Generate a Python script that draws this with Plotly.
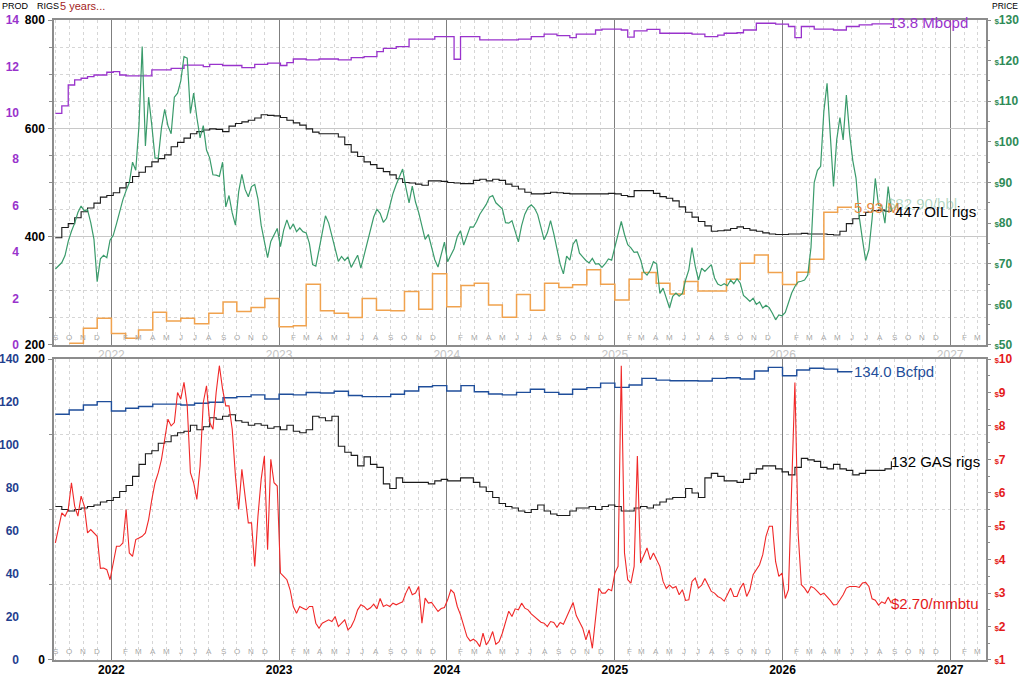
import pandas as pd
import plotly.graph_objects as go

# ---- data ----
START = "2021-09-01"

# weekly WTI-style oil price, $/bbl
oil_price = [
    68.7, 69.5, 70.3, 72.0, 75.5, 78.0, 80.0, 82.6, 84.2, 83.0,
    83.3, 80.1, 76.0, 65.6, 71.2, 72.1, 71.5, 75.8, 77.0, 79.8,
    83.0, 85.8, 88.0, 90.0, 95.0, 93.0, 104.0, 123.5, 99.0, 111.0,
    104.0, 96.0, 96.0, 103.5, 108.0, 104.0, 102.0, 111.0, 112.0, 115.0,
    121.0, 120.6, 107.0, 112.0, 106.0, 101.0, 104.0, 98.0, 96.0, 91.9,
    91.8, 91.5, 95.0, 84.0, 86.8, 82.5, 79.5, 87.7, 92.0, 88.3,
    86.5, 89.0, 89.5, 86.0, 79.5, 75.8, 71.5, 75.5, 77.1, 78.7,
    74.2, 78.3, 80.8, 78.5, 79.8, 77.9, 78.8, 77.9, 77.6, 75.0,
    69.8, 69.4, 73.5, 77.7, 81.8, 80.0, 76.8, 74.3, 70.6, 71.8,
    70.8, 71.7, 69.1, 70.6, 72.1, 68.9, 72.0, 75.2, 78.4, 81.5,
    83.4, 82.4, 80.2, 81.2, 84.2, 87.3, 89.5, 91.5, 93.3, 88.8,
    85.0, 89.1, 85.2, 82.6, 79.0, 76.0, 77.2, 74.0, 71.0, 69.2,
    72.4, 75.3, 70.5, 72.2, 73.7, 76.7, 78.1, 74.6, 77.0, 79.1,
    79.0, 80.4, 82.2, 83.3, 84.6, 86.4, 86.8, 85.0, 84.3, 83.5,
    80.1, 80.0, 80.6, 77.8, 75.4, 79.4, 82.2, 83.8, 84.5, 83.7,
    82.1, 79.0, 75.9, 77.6, 80.6, 77.4, 73.2, 69.9, 67.5, 71.9,
    70.9, 74.8, 76.0, 72.6, 71.7, 70.8, 70.2, 71.3, 69.9, 70.0,
    69.1, 70.0, 71.2, 70.9, 74.1, 77.2, 80.4, 77.2, 74.7, 73.9,
    72.8, 72.9, 71.0, 68.0, 67.2, 68.4, 70.5, 70.0, 62.7, 64.0,
    61.5, 59.1, 62.0, 62.8, 62.0, 62.7, 66.0, 68.5, 74.0, 69.4,
    66.0, 68.9, 68.1, 68.9, 69.8, 66.5, 65.0, 64.6, 65.1, 64.6,
    66.0, 65.1, 66.3, 65.2, 62.2, 61.5, 60.7, 61.5, 60.0, 60.6,
    59.1, 59.8, 59.2, 57.8, 56.2, 57.4, 57.2, 58.0, 60.4, 62.8,
    64.4, 65.5, 65.7, 66.0, 67.2, 74.0, 90.0, 93.0, 94.0, 107.5,
    114.4, 101.0, 89.0, 100.5, 106.0, 100.5, 111.5, 102.0, 95.4, 91.1,
    81.6, 76.0, 70.8, 73.5, 81.0, 91.0, 84.4, 84.4, 80.0, 89.0,
    82.9,
]

# weekly gas price, $/mmbtu
gas_price = [
    4.5, 5.0, 5.4, 5.3, 5.5, 6.3, 5.6, 5.3, 5.9, 5.6,
    4.8, 4.9, 4.8, 4.7, 3.74, 3.75, 3.7, 3.4, 3.9, 4.4,
    4.4, 4.5, 5.5, 4.2, 4.1, 4.6, 4.65, 4.7, 4.8, 5.2,
    5.8, 6.3, 6.6, 7.0, 7.6, 8.2, 8.0, 8.1, 9.0, 8.8,
    9.3, 8.6, 6.6, 6.3, 5.8, 6.8, 8.7, 9.2, 8.1, 7.9,
    9.0, 9.8, 9.1, 8.6, 8.6, 7.9, 6.5, 5.5, 6.7, 5.9,
    5.1, 5.1, 3.8, 5.3, 6.4, 7.1, 4.3, 7.0, 6.3, 6.2,
    3.6, 3.5, 3.4, 3.1, 2.6, 2.4, 2.6, 2.55, 2.5, 2.6,
    2.6, 2.1, 1.95, 2.1, 2.15, 2.2, 2.15, 2.3, 2.0, 2.1,
    2.2, 1.9, 2.0, 2.2, 2.5, 2.65, 2.6, 2.5, 2.56, 2.67,
    2.53, 2.84, 2.6, 2.65, 2.6, 2.7, 2.65, 2.7, 2.74, 3.0,
    3.2, 2.95, 3.0, 3.2, 2.1, 2.85, 2.7, 2.72, 2.6, 2.45,
    2.54, 2.57, 2.8, 3.1, 3.0, 2.6, 2.35, 2.0, 1.7, 1.57,
    1.62, 1.55, 1.4, 1.8, 1.45, 1.6, 1.85, 1.47, 1.55, 1.8,
    2.1, 2.46, 2.3, 2.53, 2.5, 2.7, 2.55, 2.5, 2.38, 2.3,
    2.2, 2.13, 2.1, 2.0, 2.15, 2.12, 1.98, 2.12, 2.07, 2.27,
    2.5, 2.72, 2.33, 2.14, 1.95, 1.6, 1.9, 1.35, 2.3, 3.14,
    3.0, 3.0, 3.12, 3.07, 3.6, 3.8, 9.8, 4.2, 3.4, 3.3,
    3.8, 7.1, 3.9, 4.1, 4.35, 4.0, 4.2, 4.0, 3.8, 3.35,
    3.14, 3.24, 3.15, 3.2, 2.95, 3.1, 2.78, 2.8, 3.35, 3.45,
    3.15, 3.24, 3.44, 3.24, 3.05, 3.0, 2.9, 2.85, 2.76, 2.95,
    3.15, 2.9, 2.9, 3.15, 3.3, 2.9, 3.1, 3.55, 3.7, 3.85,
    4.15, 4.7, 5.0, 5.0, 3.94, 3.5, 3.6, 2.84, 3.1, 6.0,
    9.3, 4.8, 3.25, 3.15, 3.0, 3.2, 3.15, 3.05, 2.95, 3.0,
    2.9, 2.78, 2.65, 2.66, 2.8, 2.95, 3.15, 3.2, 3.2, 3.2,
    3.17, 3.3, 3.32, 3.2, 2.83, 2.79, 2.64, 2.74, 2.69, 2.88,
    2.70,
]

# rig counts, every two weeks
oil_rigs = [
    398, 417, 424, 435, 446, 453, 462, 473, 476, 481,
    490, 500, 511, 519, 529, 538, 544, 551, 566, 574,
    582, 590, 594, 597, 599, 598, 594, 604, 609, 612,
    615, 619, 625, 624, 623, 620, 615, 610, 606, 599,
    593, 590, 590, 590, 584, 570, 556, 548, 538, 533,
    526, 520, 514, 507, 500, 499, 497, 495, 503, 503,
    502, 500, 499, 498, 498, 504, 506, 503, 506, 504,
    497, 493, 488, 482, 479, 479, 480, 482, 481, 480,
    479, 479, 479, 479, 479, 479, 480, 479, 476, 474,
    485, 485, 485, 480, 474, 471, 466, 455, 445, 436,
    428, 420, 410, 411, 412, 415, 418, 415, 412, 410,
    407, 405, 404, 404, 405, 405, 406, 405, 405, 405,
    404, 403, 410, 424, 433, 439, 445, 448, 449, 447,
    447,
]
gas_rigs = [
    102, 100, 99, 100, 101, 102, 103, 105, 106, 108,
    112, 116, 122, 130, 137, 139, 144, 145, 149, 151,
    152, 156, 153, 155, 161, 160, 162, 163, 159, 158,
    156, 157, 156, 154, 155, 153, 156, 152, 151, 153,
    162, 161, 159, 162, 142, 138, 136, 129, 135, 130,
    128, 117, 114, 121, 118, 118, 118, 118, 117, 119,
    120, 119, 119, 121, 121, 118, 115, 112, 108, 104,
    102, 101, 99, 98, 100, 103, 99, 97, 96, 96,
    99, 101, 101, 102, 100, 102, 103, 102, 99, 99,
    101, 102, 101, 103, 105, 107, 108, 108, 114, 111,
    108, 121, 124, 122, 119, 119, 118, 120, 124, 127,
    129, 129, 127, 125, 123, 128, 134, 133, 132, 128,
    127, 130, 127, 126, 123, 124, 126, 126, 126, 127,
    132,
]

# oil production, Mbopd, every two weeks
oil_prod = [
    9.98, 10.3, 11.2, 11.42, 11.49, 11.56, 11.63, 11.63, 11.75, 11.78,
    11.63, 11.59, 11.59, 11.59, 11.59, 11.85, 11.85, 11.85, 11.92, 11.92,
    12.06, 12.06, 12.06, 11.99, 12.09, 12.09, 12.04, 12.04, 12.04, 11.95,
    11.95, 12.09, 12.09, 12.14, 12.14, 12.04, 12.16, 12.32, 12.32, 12.28,
    12.28, 12.32, 12.32, 12.32, 12.28, 12.28, 12.38, 12.38, 12.42, 12.42,
    12.64, 12.78, 12.78, 12.85, 12.85, 13.18, 13.18, 13.18, 13.18, 13.28,
    13.28, 13.28, 12.31, 13.28, 13.28, 13.28, 13.14, 13.14, 13.14, 13.14,
    13.14, 13.14, 13.18, 13.18, 13.28, 13.28, 13.39, 13.39, 13.33, 13.33,
    13.24, 13.39, 13.39, 13.39, 13.57, 13.61, 13.61, 13.61, 13.57, 13.26,
    13.53, 13.53, 13.6, 13.6, 13.43, 13.43, 13.43, 13.43, 13.43, 13.39,
    13.39, 13.28, 13.28, 13.35, 13.43, 13.43, 13.45, 13.57, 13.57, 13.86,
    13.86, 13.86, 13.82, 13.82, 13.72, 13.24, 13.72, 13.72, 13.61, 13.61,
    13.61, 13.57, 13.57, 13.72, 13.72, 13.79, 13.79, 13.83, 13.83, 13.83,
    13.8,
]

# second oil series (orange), monthly from Oct 2021
oil_aux = [
    0.07, 0.72, 1.15,
    0.50, 0.29, 0.65, 1.41, 1.03, 1.15, 0.91, 1.37, 1.85, 1.44, 1.62, 2.00,
    0.79, 0.83, 2.62, 1.47, 1.37, 1.18, 2.00, 1.50, 1.47, 2.30, 1.54, 3.07,
    1.65, 2.56, 2.66, 1.72, 1.19, 2.18, 1.50, 2.66, 2.48, 2.59, 3.24, 2.62,
    1.94, 2.83, 3.12, 2.66, 2.20, 2.73, 2.33, 2.33, 2.83, 3.52, 3.88, 3.12,
    2.61, 3.13, 3.69, 5.72, 5.93, 5.93,
]

# gas production, Bcfpd, monthly from Sep 2021
gas_prod = [
    114.3, 116.3, 118.6, 120.2,
    115.8, 117.1, 117.9, 119.0, 119.0, 118.6, 119.4, 119.9, 122.0, 122.5, 123.3, 121.4,
    123.6, 123.3, 124.4, 124.2, 125.0, 123.0, 122.5, 122.5, 123.6, 125.1, 127.1, 127.6,
    125.1, 127.6, 124.8, 123.7, 123.3, 124.5, 125.9, 124.5, 123.6, 125.9, 126.7, 128.8,
    126.8, 127.9, 131.0, 130.2, 129.9, 129.9, 129.8, 131.0, 131.3, 130.7, 134.4, 136.1,
    132.2, 134.9, 135.7, 135.3, 134.1, 134.0,
]

weekly = pd.date_range(START, periods=len(oil_price), freq="7D")
biweekly = pd.date_range(START, periods=len(oil_rigs), freq="14D")
aux_months = pd.date_range("2021-10-01", periods=len(oil_aux), freq="MS")
gas_months = pd.date_range(START, periods=len(gas_prod), freq="MS")

X_RANGE = ["2021-08-29", "2027-03-20"]
FONT = "Liberation Sans, Arial, sans-serif"

PURPLE = "#9933cc"
GREEN = "#3a9b6b"
ORANGE = "#f0a24e"
RED = "#f02828"
BLUE = "#1f4e9a"

fig = go.Figure()

# ── top panel: oil ───────────────────────────────
fig.add_trace(go.Scatter(x=weekly, y=oil_price, xaxis="x", yaxis="y5", mode="lines",
                         line=dict(color=GREEN, width=1.2)))
fig.add_trace(go.Scatter(x=aux_months, y=oil_aux, xaxis="x", yaxis="y3", mode="lines",
                         line=dict(color=ORANGE, width=1.5, shape="hv")))
fig.add_trace(go.Scatter(x=biweekly, y=oil_rigs, xaxis="x", yaxis="y", mode="lines",
                         line=dict(color="#1a1a1a", width=1.1, shape="hv")))
fig.add_trace(go.Scatter(x=biweekly, y=oil_prod, xaxis="x", yaxis="y3", mode="lines",
                         line=dict(color=PURPLE, width=1.3, shape="hv")))

# ── bottom panel: gas ────────────────────────────
fig.add_trace(go.Scatter(x=weekly, y=gas_price, xaxis="x2", yaxis="y6", mode="lines",
                         line=dict(color=RED, width=1.1)))
fig.add_trace(go.Scatter(x=biweekly, y=gas_rigs, xaxis="x2", yaxis="y2", mode="lines",
                         line=dict(color="#1a1a1a", width=1.1, shape="hv")))
fig.add_trace(go.Scatter(x=gas_months, y=gas_prod, xaxis="x2", yaxis="y4", mode="lines",
                         line=dict(color=BLUE, width=1.4, shape="hv")))

frame = dict(showline=True, linecolor="#8c8c8c", linewidth=1.5, mirror=True, zeroline=False,
             automargin=False)
xbase = dict(type="date", range=X_RANGE, tick0="2022-01-01", dtick="M12", tickformat="%Y",
             showgrid=True, gridcolor="#7f7f7f", gridwidth=1.3, ticks="",
             minor=dict(dtick="M1", showgrid=True, gridcolor="#d6d6d6", griddash="dot", gridwidth=1),
             **frame)
rig_minor = dict(dtick=50, showgrid=True, gridcolor="#d6d6d6", griddash="dot",
                 ticks="outside", ticklen=3, tickcolor="#8c8c8c")

TOP = [0.4922, 1.0]
BOT = [0.0, 0.4703]

fig.update_layout(
    width=1020, height=676,
    margin=dict(l=54, r=34, t=20, b=16, autoexpand=False),
    paper_bgcolor="white", plot_bgcolor="white",
    showlegend=False,
    font=dict(family=FONT, size=12, color="black"),
    xaxis=dict(domain=[0, 1], anchor="y", tickfont=dict(color="#c4c4c4", size=12),
               ticklabelstandoff=-2, **xbase),
    xaxis2=dict(domain=[0, 1], anchor="y2", tickfont=dict(color="black", size=12, weight="bold"),
                ticklabelstandoff=-2, **xbase),
    # top panel axes
    yaxis=dict(domain=TOP, anchor="x", range=[200, 800], dtick=200, gridcolor="#c8c8c8", gridwidth=1.2,
               ticks="outside", ticklen=4, tickcolor="#8c8c8c", minor=rig_minor,
               tickfont=dict(color="black", size=12, weight="bold"), ticklabelstandoff=1, **frame),
    yaxis3=dict(overlaying="y", side="left", anchor="x", range=[0, 14], dtick=2, showgrid=False,
                zeroline=False, showline=False, ticks="", ticklabelstandoff=34, automargin=False,
                tickfont=dict(color=PURPLE, size=12, weight="bold")),
    yaxis5=dict(overlaying="y", side="right", anchor="x", range=[50, 130], showgrid=False,
                zeroline=False, showline=False, ticks="outside", ticklen=4, tickcolor="#8c8c8c",
                automargin=False,
                tickvals=list(range(50, 131, 10)),
                ticktext=['<span style="font-size:8px">$</span>%d' % v for v in range(50, 131, 10)],
                minor=dict(dtick=5, ticks="outside", ticklen=3, tickcolor="#8c8c8c", showgrid=False),
                tickfont=dict(color="#2e8b57", size=12, weight="bold"), ticklabelstandoff=1),
    # bottom panel axes
    yaxis2=dict(domain=BOT, anchor="x2", range=[0, 200], dtick=200, gridcolor="#c8c8c8",
                ticks="outside", ticklen=4, tickcolor="#8c8c8c", minor=rig_minor,
                tickfont=dict(color="black", size=12, weight="bold"), ticklabelstandoff=1, **frame),
    yaxis4=dict(overlaying="y2", side="left", anchor="x2", range=[0, 140], dtick=20, showgrid=False,
                zeroline=False, showline=False, ticks="", ticklabelstandoff=34, automargin=False,
                tickfont=dict(color="#1f3f8f", size=12, weight="bold")),
    yaxis6=dict(overlaying="y2", side="right", anchor="x2", range=[1, 10], showgrid=False,
                zeroline=False, showline=False, ticks="outside", ticklen=4, tickcolor="#8c8c8c",
                automargin=False,
                tickvals=list(range(1, 11)),
                ticktext=['<span style="font-size:8px">$</span>%d' % v for v in range(1, 11)],
                minor=dict(dtick=0.5, ticks="outside", ticklen=3, tickcolor="#8c8c8c", showgrid=False),
                tickfont=dict(color="#e41a1a", size=12, weight="bold"), ticklabelstandoff=1),
)

ann = []
# header texts (paper coords: plot area is 932 px wide, 640 px tall)
ann.append(dict(text="PROD", x=-0.058, y=1.022, xref="paper", yref="paper", xanchor="left",
                font=dict(size=9, color="black")))
ann.append(dict(text="RIGS", x=-0.0204, y=1.022, xref="paper", yref="paper", xanchor="left",
                font=dict(size=9, color="black")))
ann.append(dict(text="5 years...", x=0.004, y=1.022, xref="paper", yref="paper", xanchor="left",
                font=dict(size=11, color="#a31d1d")))
ann.append(dict(text="PRICE", x=1.0, y=1.022, xref="paper", yref="paper", xanchor="left", xshift=4,
                font=dict(size=8.5, color="black")))

# month initials along the bottom of each panel
letters = "JFMAMJJASOND"
for m in pd.date_range("2021-09-01", "2027-03-01", freq="MS"):
    if m.month == 1:
        continue
    for xr, yr, yy in (("x", "y domain", 0.022), ("x2", "y2 domain", 0.027)):
        ann.append(dict(text=letters[m.month - 1], x=m, y=yy, xref=xr, yref=yr,
                        font=dict(size=8, color="#a8a8a8")))

# end-of-series labels
ann.append(dict(text="%.1f Mbopd" % oil_prod[-1], x=biweekly[-1], y=oil_prod[-1], xref="x", yref="y3",
                xanchor="left", xshift=-4, yshift=2, font=dict(size=15, color=PURPLE)))
ann.append(dict(text="%.2f M" % oil_aux[-1], x=aux_months[-1], y=oil_aux[-1], xref="x", yref="y3",
                xanchor="left", xshift=0, font=dict(size=15, color="#e8883a")))
ann.append(dict(text="$%.2f/bbl" % oil_price[-1], x=weekly[-1], y=oil_price[-1], xref="x", yref="y5",
                xanchor="left", xshift=-6, yshift=8, font=dict(size=15, color="rgba(90,170,125,0.45)")))
ann.append(dict(text="%d OIL rigs" % oil_rigs[-1], x=biweekly[-1], y=oil_rigs[-1], xref="x", yref="y",
                xanchor="left", xshift=2, font=dict(size=15, color="black")))
ann.append(dict(text="%.1f Bcfpd" % gas_prod[-1], x=gas_months[-1], y=gas_prod[-1], xref="x2", yref="y4",
                xanchor="left", xshift=0, font=dict(size=15, color=BLUE)))
ann.append(dict(text="%d GAS rigs" % gas_rigs[-1], x=biweekly[-1], y=gas_rigs[-1], xref="x2", yref="y2",
                xanchor="left", xshift=-2, font=dict(size=15, color="black")))
ann.append(dict(text="$%.2f/mmbtu" % gas_price[-1], x=weekly[-1], y=gas_price[-1], xref="x2", yref="y6",
                xanchor="left", xshift=-2, font=dict(size=15, color="#e41a1a")))

for a in ann:
    a.setdefault("showarrow", False)
    a.setdefault("yanchor", "middle")
fig.update_layout(annotations=ann)

# the browser's default 8px page margin would push the chart out of the window
fig.write_html("out.html", config={"displayModeBar": False},
               post_script="document.body.style.margin = '0px';")
